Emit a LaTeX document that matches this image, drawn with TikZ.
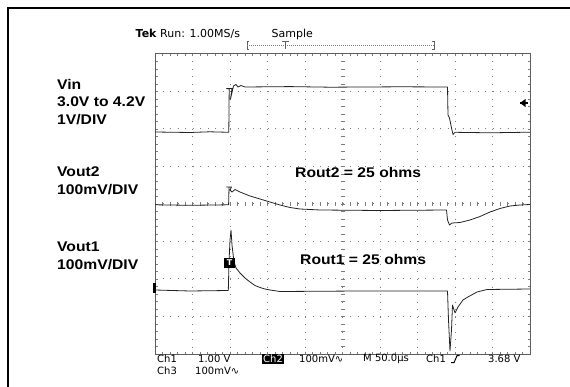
\documentclass[tikz,border=0pt]{standalone}
\usepackage{fontspec}
\usetikzlibrary{positioning, calc}
\newfontfamily\labelfont{Liberation Sans}[FakeStretch=1.12]
\newfontfamily\scopefont{DejaVu Sans}
\definecolor{gridcol}{RGB}{125,125,125}
\definecolor{framecol}{RGB}{95,95,95}
\definecolor{tracecol}{RGB}{35,35,35}

\begin{document}
\begin{tikzpicture}[
			x=1pt, y=-1pt,
			node distance=18pt,
			chlabel/.style={
				font=\labelfont\bfseries\fontsize{14}{16}\selectfont,
				inner sep=0pt,
				anchor=west
			},
			readout/.style={
				font=\scopefont\fontsize{10}{12}\selectfont,
				inner sep=0pt,
				anchor=west
			},
			header/.style={
				font=\scopefont\fontsize{11}{13}\selectfont,
				inner sep=0pt,
				anchor=west
			},
			griddots/.style={
				draw=gridcol,
				line width=1pt,
				dash pattern=on 1pt off 6.5pt
			},
			tick/.style={
				draw=gridcol,
				line width=0.6pt
			},
			trace/.style={
				draw=tracecol,
				line width=0.8pt,
				line join=round
			}
			]
			\useasboundingbox (0,0) rectangle (570,387);
			
			% Frame
			\draw[line width=1.6pt] (8,387) -- (8,8) -- (570,8);
			
			% Graticule
			\foreach \i in {1,...,9}
				\draw[griddots] ({155+37.5*\i},54) -- ({155+37.5*\i},354);
			\foreach \j in {1,...,7}
				\draw[griddots] (155,{54+37.5*\j}) -- (530,{54+37.5*\j});
			\foreach \k in {1,...,49} {
				\draw[tick] ({155+7.5*\k},202) -- ++(0,4);
				\draw[tick] ({155+7.5*\k},54) -- ++(0,2.5);
				\draw[tick] ({155+7.5*\k},354) -- ++(0,-2.5);
			}
			\foreach \k in {1,...,39} {
				\draw[tick] (340.5,{54+7.5*\k}) -- ++(4,0);
				\draw[tick] (155,{54+7.5*\k}) -- ++(2.5,0);
				\draw[tick] (530,{54+7.5*\k}) -- ++(-2.5,0);
			}
			\draw[framecol, line width=1pt] (155,54) rectangle (530,354);
			
			% Header
			\node[header] (tekrun) at (135.5,34) {\textbf{Tek} Run: 1.00MS/s};
			\node[header] (acqmode) at (271.5,34) {Sample};
			\coordinate (recleft) at (247,45);
			\coordinate (recright) at (434,45);
			\draw[framecol, line width=0.8pt] ($(recleft)+(2,-3.5)$) -- ++(-2,0) -- ++(0,8) -- ++(2,0);
			\draw[framecol, line width=0.8pt] ($(recright)+(-2,-3.5)$) -- ++(2,0) -- ++(0,8) -- ++(-2,0);
			\draw[gridcol, line width=0.6pt, dash pattern=on 1pt off 1pt] (recleft) -- (recright);
			\draw[framecol, line width=0.8pt] (281.5,41.5) -- (288.5,41.5) (285,41.5) -- (285,49);
			
			% Traces
			\draw[trace] (155,132) -- (190,132.5) -- (210,131.8) -- (228.8,132.3) -- (229.2,89)
				-- (226.5,88.5) -- (232,88.5) -- (230.5,99) -- (233.5,86) -- (236,84.5) -- (238,87)
				-- (241,85.5) -- (245,87) -- (290,86.6) -- (330,87.2) -- (400,86.8) -- (447.5,87)
				-- (448,115) -- (449.5,118) -- (451.5,128) -- (453,134.5) -- (455,132.3)
				-- (490,132.8) -- (530,132.2);
			\draw[trace] (155,204.8) -- (190,205.3) -- (228.6,204.8) -- (229,187) -- (226.5,187)
				-- (231.5,187) -- (230,190) -- (232,192) -- (235,189.5) -- (240,192) -- (250,196)
				-- (260,199) -- (270,202) -- (280,205) -- (290,207.5) -- (300,209) -- (320,210)
				-- (380,210.5) -- (446.5,210) -- (447.5,220) -- (449.5,225) -- (452,223)
				-- (460,222.5) -- (470,220) -- (480,216.5) -- (490,212) -- (500,208.5)
				-- (510,206) -- (520,205) -- (530,204.5);
			\draw[trace] (155,290) -- (190,291) -- (228.3,290.5) -- (229,262) -- (230,240)
				-- (231,230) -- (232,245) -- (234,262) -- (236,268) -- (240,273) -- (245,278)
				-- (250,282) -- (255,285.5) -- (260,287.5) -- (265,289) -- (270,290) -- (280,291.5)
				-- (360,291) -- (447.5,291) -- (448.5,320) -- (450,351) -- (451.5,330)
				-- (452.5,305) -- (455,313) -- (458,307) -- (463,300) -- (467,297.5)
				-- (477,292) -- (487,289.5) -- (530,289);
			
			% Markers
			\node[fill=black, text=white, inner sep=0pt, minimum width=11pt, minimum height=10pt,
				font=\scopefont\bfseries\fontsize{8}{8}\selectfont] (trigmark) at (229.5,263) {T};
			\node[fill=black, inner sep=0pt, minimum width=3pt, minimum height=10pt] (ch1gnd) at (154,288) {};
			\coordinate (levelmark) at (520,103);
			\fill (levelmark) -- ++(5.5,-4) -- ++(0,8) -- cycle;
			\draw[line width=1.2pt] (levelmark) -- ++(8,0);
			
			% Channel labels
			\node[chlabel] (vin) at (57,84) {Vin};
			\node[chlabel, below=of vin.west, anchor=west] (vinrange) {3.0V to 4.2V};
			\node[chlabel, below=of vinrange.west, anchor=west] (vinscale) {1V/DIV};
			\node[chlabel] (vouttwo) at (57,172) {Vout2};
			\node[chlabel, below=of vouttwo.west, anchor=west] (vouttwoscale) {100mV/DIV};
			\node[chlabel] (voutone) at (57,247) {Vout1};
			\node[chlabel, below=of voutone.west, anchor=west] (voutonescale) {100mV/DIV};
			\node[chlabel] (routtwo) at (295,172) {Rout2 = 25 ohms};
			\node[chlabel] (routone) at (300,259) {Rout1 = 25 ohms};
			
			% Readout
			\node[readout] (chonescale) at (157,359) {Ch1};
			\node[readout] (chonevolts) at (198,359) {1.00 V};
			\node[readout, fill=black, text=white, inner sep=1pt] (chtwotag) at (262,359) {Ch2};
			\node[readout] (chtwovolts) at (299,359) {100mV∿};
			\node[readout] (timebase) at (363,359) {M 50.0µs};
			\node[readout] (trigsource) at (426,359) {Ch1};
			\node[readout] (triglevel) at (488,359) {3.68 V};
			\node[readout, below=12pt of chonescale.west, anchor=west] (chthreescale) {Ch3};
			\node[readout] (chthreevolts) at (195,371) {100mV∿};
			\draw[line width=1pt] ($(trigsource.east)+(5,3.5)$) -- ++(3,0) -- ++(3,-7) -- ++(2.5,0);
		\end{tikzpicture}
\end{document}
